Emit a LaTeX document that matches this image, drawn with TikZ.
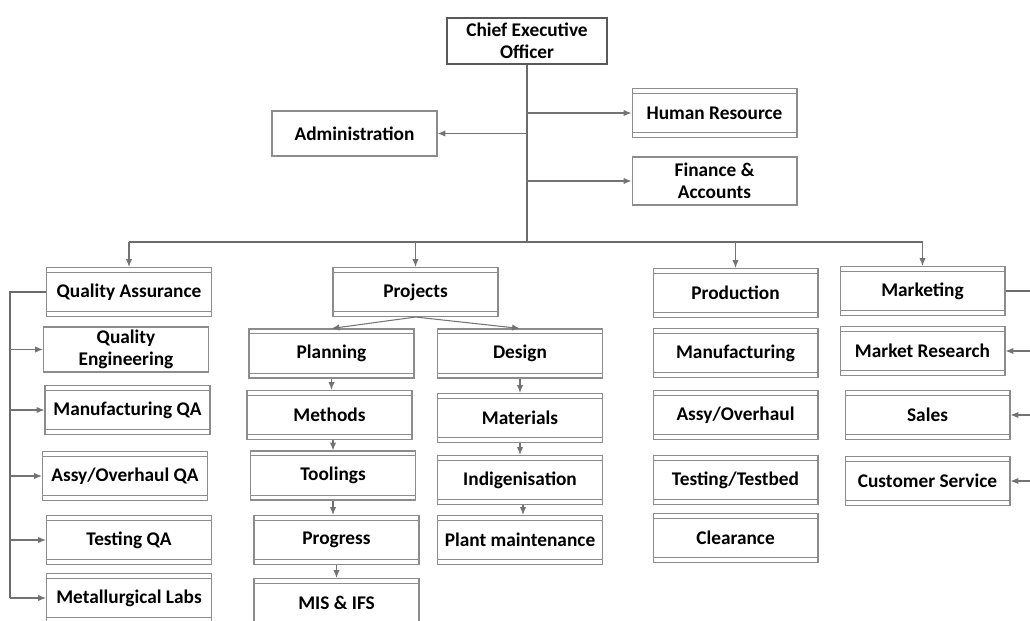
\documentclass[tikz,border=0pt]{standalone}
\usepackage{fontspec}
\setmainfont{Carlito}
\usepackage{tikz}
\usetikzlibrary{arrows.meta,positioning,calc}

\begin{document}
\begin{tikzpicture}[x=0.02cm, y=-0.02cm,
  dept/.style={draw=black!45, line width=0.6pt, minimum width=3.3cm, minimum height=0.98cm,
    inner sep=1pt, align=center, font=\fontsize{11}{12.5}\selectfont\bfseries},
  deptd/.style={dept, path picture={
    \draw[black!45, line width=0.6pt]
      ([yshift=-2.6pt]path picture bounding box.north west) -- ([yshift=-2.6pt]path picture bounding box.north east)
      ([yshift=2.6pt]path picture bounding box.south west) -- ([yshift=2.6pt]path picture bounding box.south east);}},
  boss/.style={dept, draw=black!65, line width=1.6pt, minimum width=3.2cm, minimum height=0.92cm},
  trunk/.style={draw=black!58, line width=1.6pt},
  rail/.style={draw=black!58, line width=0.9pt},
  link/.style={draw=black!55, line width=0.6pt, -{Latex[length=4.5pt,width=3.6pt]}}]

\useasboundingbox (0,0) rectangle (1030,621);
\clip (0,0) rectangle (1030,621);

% Top: CEO and staff
\node[boss] (ceo) at (527,41) {Chief Executive\\Officer};
\node[dept] (admin) at (354.5,133.5) [minimum height=0.9cm] {Administration};
\node[deptd] (hr) at (714.5,113) {Human Resource};
\node[dept] (fin) at (714.5,181) [minimum height=0.96cm] {Finance \&\\Accounts};

% Quality Assurance column
\node[deptd] (qa) at (129,292) {Quality Assurance};
\node[dept] (qe) at (126,349.5) [minimum height=0.9cm] {Quality\\Engineering};
\node[deptd] (mqa) at (127.5,410) {Manufacturing QA};
\node[deptd] (aqa) at (125,476) {Assy/Overhaul QA};
\node[deptd] (tqa) at (129,540) {Testing QA};
\node[deptd] (mlab) at (129,598) {Metallurgical Labs};

% Projects columns
\node[deptd] (proj) at (415.5,292) {Projects};
\node[deptd] (plan) at (331.5,353.5) {Planning};
\node[deptd] (methods) at (329.5,415) {Methods};
\node[deptd] (tool) at (333,475.5) {Toolings};
\node[deptd] (prog) at (336.5,540) {Progress};
\node[deptd] (mis) at (336.5,603) {MIS \& IFS};
\node[deptd] (design) at (520,353.5) {Design};
\node[deptd] (mat) at (520,418) {Materials};
\node[deptd] (indig) at (520,480) {Indigenisation};
\node[deptd] (plant) at (520,540) {Plant maintenance};

% Production column
\node[deptd] (prod) at (735.5,293) {Production};
\node[deptd] (manuf) at (735.5,353) {Manufacturing};
\node[deptd] (assy) at (735.5,415) {Assy/Overhaul};
\node[deptd] (testbed) at (735.5,480) {Testing/Testbed};
\node[deptd] (clear) at (735.5,538) {Clearance};

% Marketing column
\node[deptd] (mkt) at (922.5,291) {Marketing};
\node[deptd] (mres) at (922.5,351) {Market Research};
\node[deptd] (sales) at (927.5,415) {Sales};
\node[deptd] (cserv) at (927.5,481) {Customer Service};

% Bus lines
\coordinate (bus) at (527,242);
\coordinate (qrail) at (10,0);
\coordinate (mrail) at (1030,0);

\draw[trunk] (ceo.south) -- (bus);
\draw[trunk] (qa.north |- bus) -- (mkt.north |- bus);

% Arrows
\draw[link] (ceo.south |- admin) -- (admin);
\draw[link] (ceo.south |- hr) -- (hr);
\draw[link] (ceo.south |- fin) -- (fin);
\foreach \d in {qa,proj,prod,mkt}
  \draw[link] (\d.north |- bus) -- (\d);

\draw[link] (proj.south) -- (plan.north);
\draw[link] (proj.south) -- (design.north);
\draw[link] (plan.south) -- (plan.south |- methods.north);
\draw[link] (tool.north |- methods.south) -- (tool.north);
\draw[link] (tool.south) -- (tool.south |- prog.north);
\draw[link] (prog.south) -- (mis.north);
\draw[link] (design.south) -- (mat.north);
\draw[link] (mat.south) -- (indig.north);
\draw[link] ($(indig.south)+(3,0)$) -- ($(plant.north)+(3,0)$);

\draw[rail] (qa.west) -| (qrail |- mlab);
\draw[link] (qrail |- mlab) -- (mlab);
\foreach \d in {qe,mqa,aqa,tqa}
  \draw[link] (qrail |- \d) -- (\d);

\draw[rail] (mkt) -- (mrail |- mkt);
\foreach \d in {mres,sales,cserv}
  \draw[link] (mrail |- \d) -- (\d);

\end{tikzpicture}
\end{document}
